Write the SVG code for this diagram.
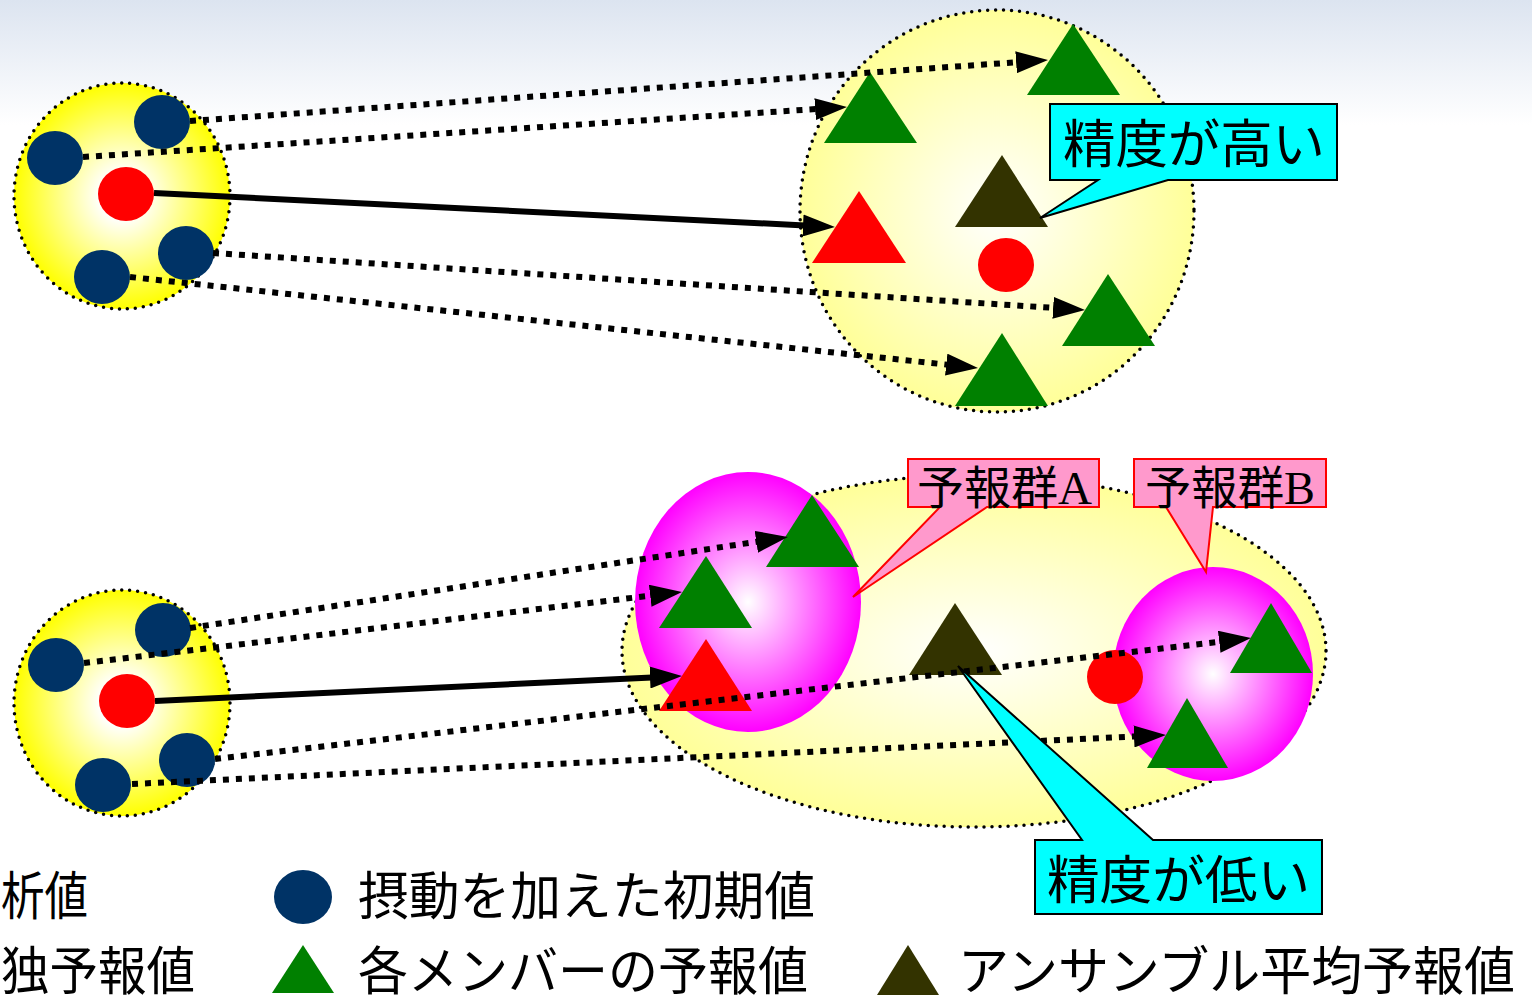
<svg xmlns="http://www.w3.org/2000/svg" width="1532" height="998" viewBox="0 0 1532 998">
<defs>
<linearGradient id="bg" x1="0" y1="0" x2="0" y2="125" gradientUnits="userSpaceOnUse"><stop offset="0" stop-color="#dce4f0"/><stop offset="1" stop-color="#ffffff"/></linearGradient>
<radialGradient id="yel"><stop offset="0" stop-color="#ffffff"/><stop offset="0.2" stop-color="#ffffff"/><stop offset="1" stop-color="#ffff00"/></radialGradient>
<radialGradient id="pale"><stop offset="0" stop-color="#ffffff"/><stop offset="1" stop-color="#ffff99"/></radialGradient>
<radialGradient id="pink"><stop offset="0" stop-color="#ffffff"/><stop offset="1" stop-color="#ff00ff"/></radialGradient>
<marker id="ah" viewBox="0 0 32 22" refX="2" refY="11" markerWidth="32" markerHeight="22" markerUnits="userSpaceOnUse" orient="auto"><path d="M0,0 L32,11 L0,22 Z" fill="#000"/></marker>
<style>
.dot{stroke:#000;stroke-width:3.5;stroke-dasharray:0 8;stroke-linecap:round}
.dash{fill:none;stroke:#000;stroke-width:6;stroke-dasharray:6 7}
.solid{fill:none;stroke:#000;stroke-width:6}
.navy{fill:#003366}.red{fill:#ff0000}.green{fill:#008000}.olive{fill:#333300}
.cy{fill:#00ffff;stroke:#000;stroke-width:2}
.pk{fill:#ff99cc;stroke:#ff0000;stroke-width:2}
.t{font-family:"Liberation Sans","Noto Sans CJK JP",sans-serif;font-size:52px;fill:#000}
.ts{font-family:"Liberation Serif","Noto Sans CJK JP",serif;font-size:46px;fill:#000}
</style>
</defs>
<rect width="1532" height="998" fill="#ffffff"/>
<rect width="1532" height="130" fill="url(#bg)"/>

<g id="top-initial">
<ellipse cx="122" cy="196" rx="108" ry="113" fill="url(#yel)" class="dot"/>
<ellipse class="navy" cx="162" cy="122" rx="28" ry="27"/>
<ellipse class="navy" cx="55" cy="158" rx="28" ry="27"/>
<ellipse class="red" cx="126" cy="194" rx="28" ry="27"/>
<ellipse class="navy" cx="186" cy="253" rx="28" ry="27"/>
<ellipse class="navy" cx="102" cy="277" rx="28" ry="27"/>
</g>

<g id="top-forecast">
<ellipse cx="997" cy="211" rx="197" ry="201" fill="url(#pale)" class="dot"/>
<polygon class="green" points="1073,24 1120,95 1027,95"/>
<polygon class="green" points="870,72 917,143 824,143"/>
<polygon class="red" points="859,191 906,263 812,263"/>
<polygon class="olive" points="1002,155 1048,227 955,227"/>
<ellipse class="red" cx="1006" cy="265" rx="28" ry="27"/>
<polygon class="green" points="1108,274 1155,346 1062,346"/>
<polygon class="green" points="1002,333 1048,406 955,406"/>
</g>

<g id="bottom-initial">
<ellipse cx="122" cy="703" rx="108" ry="113" fill="url(#yel)" class="dot"/>
<ellipse class="navy" cx="163" cy="630" rx="28" ry="27"/>
<ellipse class="navy" cx="56" cy="665" rx="28" ry="27"/>
<ellipse class="red" cx="127" cy="701" rx="28" ry="27"/>
<ellipse class="navy" cx="187" cy="760" rx="28" ry="27"/>
<ellipse class="navy" cx="103" cy="785" rx="28" ry="27"/>
</g>

<g id="bottom-forecast">
<ellipse cx="974" cy="651" rx="352" ry="176" fill="url(#pale)" class="dot"/>
<ellipse id="group-a" cx="748" cy="602" rx="113" ry="130" fill="url(#pink)"/>
<ellipse id="group-b" cx="1213" cy="674" rx="100" ry="107" fill="url(#pink)"/>
<polygon class="green" points="812,495 859,567 766,567"/>
<polygon class="green" points="706,556 752,628 659,628"/>
<polygon class="red" points="706,639 752,711 659,711"/>
<polygon class="olive" points="955,603 1002,675 909,675"/>
<ellipse class="red" cx="1115" cy="677" rx="28" ry="27"/>
<polygon class="green" points="1271,603 1312,673 1230,673"/>
<polygon class="green" points="1187,698 1228,768 1147,768"/>
</g>

<g id="connectors">
<line class="dash" x1="190" y1="121" x2="1018.1" y2="62.1" marker-end="url(#ah)"/>
<line class="dash" x1="83" y1="157" x2="817.1" y2="109" marker-end="url(#ah)"/>
<line class="solid" x1="154" y1="193" x2="805" y2="225.5" marker-end="url(#ah)"/>
<line class="dash" x1="213" y1="253" x2="1055.1" y2="308" marker-end="url(#ah)"/>
<line class="dash" x1="130" y1="277" x2="948.2" y2="364.8" marker-end="url(#ah)"/>
<line class="dash" x1="190" y1="628" x2="758.3" y2="541.5" marker-end="url(#ah)"/>
<line class="dash" x1="84" y1="663" x2="652.2" y2="595.5" marker-end="url(#ah)"/>
<line class="solid" x1="155" y1="701" x2="652" y2="677.4" marker-end="url(#ah)"/>
<line class="dash" x1="215" y1="759" x2="1221.2" y2="641.5" marker-end="url(#ah)"/>
<line class="dash" x1="132" y1="784" x2="1136" y2="736.4" marker-end="url(#ah)"/>
</g>

<g id="callout-high">
<path class="cy" d="M1050,104 H1337 V180 H1168 L1040,218 L1098,180 H1050 Z"/>
<text class="t" x="1063" y="163" textLength="262" lengthAdjust="spacingAndGlyphs">精度が高い</text>
</g>
<g id="callout-a">
<path class="pk" d="M908,459 H1099 V507 H987 L853,597 L940,507 H908 Z"/>
<text class="ts" x="917" y="504" textLength="175" lengthAdjust="spacingAndGlyphs">予報群A</text>
</g>
<g id="callout-b">
<path class="pk" d="M1134,459 H1326 V507 H1213 L1206,572 L1166,507 H1134 Z"/>
<text class="ts" x="1145" y="504" textLength="170" lengthAdjust="spacingAndGlyphs">予報群B</text>
</g>
<g id="callout-low">
<path class="cy" d="M1035,840 H1082 L958,666 L1153,840 H1322 V914 H1035 Z"/>
<text class="t" x="1047" y="899" textLength="263" lengthAdjust="spacingAndGlyphs">精度が低い</text>
</g>

<g id="legend">
<text class="t" x="1" y="915" textLength="87" lengthAdjust="spacingAndGlyphs">析値</text>
<text class="t" x="1" y="990" textLength="194" lengthAdjust="spacingAndGlyphs">独予報値</text>
<ellipse class="navy" cx="303" cy="897" rx="29" ry="27"/>
<text class="t" x="358" y="915" textLength="457" lengthAdjust="spacingAndGlyphs">摂動を加えた初期値</text>
<polygon class="green" points="303,945 334,993 272,993"/>
<text class="t" x="358" y="990" textLength="450" lengthAdjust="spacingAndGlyphs">各メンバーの予報値</text>
<polygon class="olive" points="908,945 939,995 877,995"/>
<text class="t" x="958" y="990" textLength="557" lengthAdjust="spacingAndGlyphs">アンサンブル平均予報値</text>
</g>
</svg>
